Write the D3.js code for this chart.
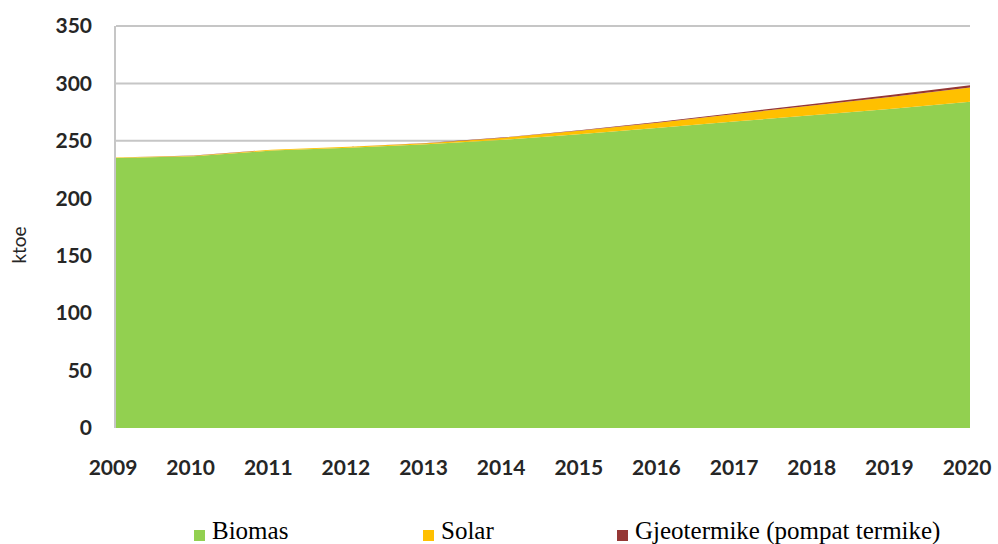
<!DOCTYPE html>
<html>
<head>
<meta charset="utf-8">
<script src="https://cdn.jsdelivr.net/npm/d3@7"></script>
<style>
  body { margin: 0; background: #fff; }
  svg { display: block; }
</style>
</head>
<body>
<div id="chart"></div>
<script>
// data (ktoe)
var years = [2009, 2010, 2011, 2012, 2013, 2014, 2015, 2016, 2017, 2018, 2019, 2020];
var biomas = [235, 236.5, 241.5, 244, 247, 251, 256, 261.5, 267, 272.5, 278, 284];
var solar = [0.5, 0.6, 0.7, 0.8, 1, 1.8, 3, 4.5, 6.5, 8.5, 10.5, 12.5];
var gjeotermike = [0.1, 0.1, 0.1, 0.1, 0.2, 0.3, 0.5, 0.7, 1, 1.3, 1.6, 1.9];
var seriesNames = ["Biomas", "Solar", "Gjeotermike (pompat termike)"];
var seriesKeys = ["biomas", "solar", "gjeo"];
var colors = ["#92d050", "#ffc000", "#953735"];
var yTicks = [0, 50, 100, 150, 200, 250, 300, 350];

var w = 998;
var h = 544;
var plotLeft = 116, plotRight = 970, plotTop = 26, plotBottom = 428;

var table = years.map(function(y, i) {
    return { year: y, biomas: biomas[i], solar: solar[i], gjeo: gjeotermike[i] };
});

var svg = d3.select("#chart")
    .append("svg")
    .attr("width", w)
    .attr("height", h);

var xScale = d3.scaleLinear()
    .domain([years[0], years[years.length - 1]])
    .range([plotLeft, plotRight]);

var yScale = d3.scaleLinear()
    .domain([0, 350])
    .range([plotBottom, plotTop]);

// gridlines
svg.append("g")
    .selectAll("line")
    .data(yTicks.filter(d => d > 0))
    .enter()
    .append("line")
    .attr("x1", plotLeft)
    .attr("x2", plotRight)
    .attr("y1", d => yScale(d))
    .attr("y2", d => yScale(d))
    .attr("stroke", "#c6c6c6")
    .attr("stroke-width", 2);

// left axis line
svg.append("line")
    .attr("x1", plotLeft - 1)
    .attr("x2", plotLeft - 1)
    .attr("y1", plotTop)
    .attr("y2", plotBottom)
    .attr("stroke", "#c6c6c6")
    .attr("stroke-width", 2);

// stacked areas
var stack = d3.stack().keys(seriesKeys);
var layers = stack(table);

var area = d3.area()
    .x(d => xScale(d.data.year))
    .y0(d => yScale(d[0]))
    .y1(d => yScale(d[1]));

svg.append("g")
    .selectAll("path")
    .data(layers)
    .enter()
    .append("path")
    .attr("d", area)
    .attr("fill", (d, i) => colors[i]);

// y tick labels
svg.append("g")
    .selectAll("text")
    .data(yTicks)
    .enter()
    .append("text")
    .attr("x", 92)
    .attr("y", d => yScale(d))
    .attr("dy", "0.35em")
    .attr("text-anchor", "end")
    .attr("font-family", "Lato, sans-serif")
    .attr("font-weight", "bold")
    .attr("font-size", "21px")
    .attr("fill", "#262626")
    .text(d => d);

// x tick labels
svg.append("g")
    .selectAll("text")
    .data(years)
    .enter()
    .append("text")
    .attr("x", d => xScale(d) - 3)
    .attr("y", 475)
    .attr("text-anchor", "middle")
    .attr("font-family", "Lato, sans-serif")
    .attr("font-weight", "bold")
    .attr("font-size", "21px")
    .attr("fill", "#262626")
    .text(d => d);

// y axis title
svg.append("text")
    .attr("transform", "translate(26,245) rotate(-90)")
    .attr("text-anchor", "middle")
    .attr("font-family", "Lato, sans-serif")
    .attr("font-size", "19px")
    .attr("fill", "#262626")
    .text("ktoe");

// legend
var legendX = [194, 423, 617];
var legend = svg.append("g")
    .selectAll("g")
    .data(seriesNames)
    .enter()
    .append("g")
    .attr("transform", (d, i) => "translate(" + legendX[i] + ",0)");

legend.append("rect")
    .attr("x", 0)
    .attr("y", 530)
    .attr("width", 11)
    .attr("height", 11)
    .attr("fill", (d, i) => colors[i]);

legend.append("text")
    .attr("x", 18)
    .attr("y", 539)
    .attr("font-family", "'Liberation Serif', 'Times New Roman', serif")
    .attr("font-size", "25px")
    .attr("fill", "#000")
    .text(d => d);
</script>
</body>
</html>
